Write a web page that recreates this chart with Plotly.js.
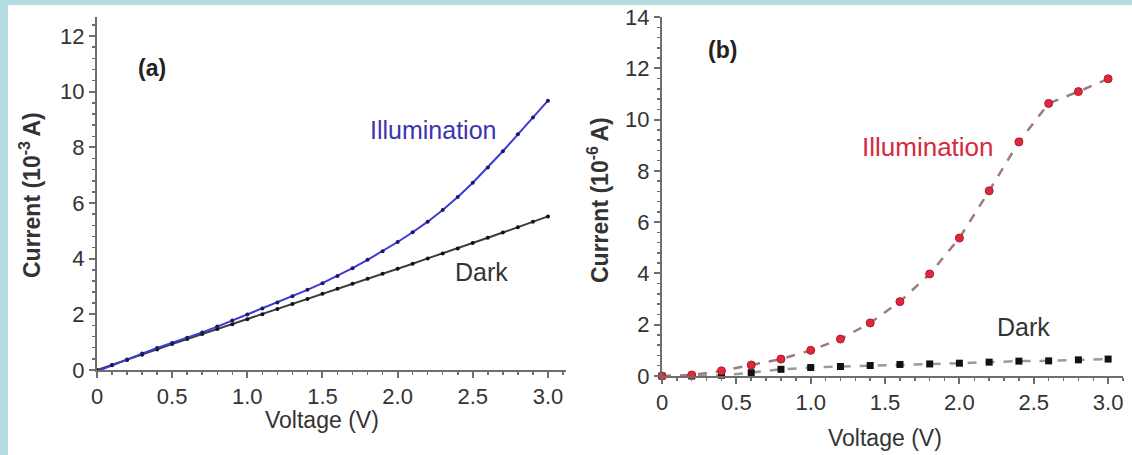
<!DOCTYPE html>
<html>
<head>
<meta charset="utf-8">
<script src="https://cdn.plot.ly/plotly-3.0.1.min.js"></script>
<style>
  html, body { margin: 0; padding: 0; background: #b5dde1; width: 1132px; height: 455px; overflow: hidden; }
  #chart { position: absolute; left: 8px; top: 5px; width: 1124px; height: 450px; background: #ffffff; }
</style>
</head>
<body>
<div id="chart"></div>
<script>
// ---- Data ----
const voltageA = [0,0.1,0.2,0.3,0.4,0.5,0.6,0.7,0.8,0.9,1.0,1.1,1.2,1.3,1.4,1.5,1.6,1.7,1.8,1.9,2.0,2.1,2.2,2.3,2.4,2.5,2.6,2.7,2.8,2.9,3.0];
const illumA = [-0.05,0.17,0.38,0.59,0.79,0.97,1.16,1.35,1.56,1.78,1.99,2.21,2.43,2.65,2.88,3.12,3.38,3.66,3.96,4.27,4.60,4.95,5.33,5.75,6.22,6.73,7.28,7.86,8.47,9.07,9.68];
const darkA = [0,0.18,0.36,0.55,0.74,0.93,1.11,1.29,1.47,1.64,1.82,2.0,2.19,2.37,2.55,2.74,2.92,3.10,3.28,3.46,3.64,3.82,4.01,4.19,4.37,4.56,4.75,4.94,5.13,5.33,5.52];

const voltageB = [0,0.2,0.4,0.6,0.8,1.0,1.2,1.4,1.6,1.8,2.0,2.2,2.4,2.6,2.8,3.0];
const illumB = [0,0.04,0.2,0.43,0.66,1.0,1.44,2.07,2.9,3.98,5.38,7.22,9.13,10.63,11.09,11.59];
const darkB = [0,0.0,0.03,0.13,0.26,0.33,0.37,0.41,0.45,0.47,0.5,0.54,0.58,0.59,0.63,0.66];

const xTickVals = [0,0.5,1.0,1.5,2.0,2.5,3.0];
const xTickText = ["0","0.5","1.0","1.5","2.0","2.5","3.0"];
const yTickValsA = [0,2,4,6,8,10,12];
const yTickValsB = [0,2,4,6,8,10,12,14];

const W = 1124, H = 450;
const FONT = '"Liberation Sans", Arial, sans-serif';
const AX = '#6e6e6e';

const traces = [
  { x: voltageA, y: darkA, xaxis: 'x', yaxis: 'y', mode: 'lines+markers', cliponaxis: false,
    line: { color: '#3c3c3c', width: 2 }, marker: { color: '#111', size: 4 } },
  { x: voltageA, y: illumA, xaxis: 'x', yaxis: 'y', mode: 'lines+markers', cliponaxis: false,
    line: { color: '#3a3ad8', width: 2 }, marker: { color: '#1a1a66', size: 4 } },
  { x: voltageB, y: darkB, xaxis: 'x2', yaxis: 'y2', mode: 'lines+markers', cliponaxis: false,
    line: { color: '#9a9a9a', width: 2.5, dash: 'dash' }, marker: { color: '#111', size: 7, symbol: 'square' } },
  { x: voltageB, y: illumB, xaxis: 'x2', yaxis: 'y2', mode: 'lines+markers', cliponaxis: false,
    line: { color: '#9c7a80', width: 2.5, dash: 'dash' }, marker: { color: '#e0283c', size: 8, symbol: 'circle', line: { color: '#b01828', width: 1 } } }
];

function xAxis(domain, range, anchor) {
  return { domain: domain, range: range, anchor: anchor, showgrid: false, zeroline: false,
    showline: true, linecolor: AX, linewidth: 2, ticks: 'outside', ticklen: 6, tickwidth: 2, tickcolor: AX,
    tickvals: xTickVals, ticktext: xTickText, ticklabeloverflow: 'allow',
    tickfont: { family: FONT, size: 22, color: '#333' },
    minor: { dtick: 0.1, ticks: 'outside', ticklen: 3, tickwidth: 1.5, tickcolor: AX } };
}
function yAxis(domain, range, anchor, vals) {
  return { domain: domain, range: range, anchor: anchor, showgrid: false, zeroline: false,
    showline: true, linecolor: AX, linewidth: 2, ticks: 'outside', ticklen: 6, tickwidth: 2, tickcolor: AX,
    tickvals: vals, ticktext: vals.map(String), ticklabeloverflow: 'allow',
    tickfont: { family: FONT, size: 22, color: '#333' },
    minor: { dtick: 0.4, ticks: 'outside', ticklen: 3, tickwidth: 1.5, tickcolor: AX } };
}

function ann(text, px, py, opts) {
  return Object.assign({ text: text, xref: 'paper', yref: 'paper', x: px / W, y: 1 - py / H,
    xanchor: 'center', yanchor: 'middle', showarrow: false,
    font: { family: FONT, size: 23, color: '#333' } }, opts || {});
}

const layout = {
  width: W, height: H, margin: { l: 0, r: 0, t: 0, b: 0 },
  paper_bgcolor: '#ffffff', plot_bgcolor: 'rgba(0,0,0,0)', showlegend: false,
  xaxis: xAxis([89 / W, 558 / W], [0, 3.12], 'y'),
  yaxis: yAxis([85 / H, 438.4 / H], [0, 12.7], 'x', yTickValsA),
  xaxis2: xAxis([654 / W, 1115 / W], [0, 3.1], 'y2'),
  yaxis2: yAxis([79 / H, 438 / H], [0, 14], 'x2', yTickValsB),
  annotations: [
    ann('<b>Current (10<sup>-3 </sup>A)</b>', 22, 190, { textangle: -90, font: { family: FONT, size: 23, color: '#333' } }),
    ann('Voltage (V)', 314, 415),
    ann('<b>(a)</b>', 144, 63, { font: { family: FONT, size: 23, color: '#222' } }),
    ann('Illumination', 425, 125, { font: { family: FONT, size: 25, color: '#3a34b0' } }),
    ann('Dark', 474, 267, { font: { family: FONT, size: 25, color: '#333' } }),
    ann('<b>Current (10<sup>-6 </sup>A)</b>', 590, 195, { textangle: -90, font: { family: FONT, size: 23, color: '#333' } }),
    ann('Voltage (V)', 877, 433),
    ann('<b>(b)</b>', 714, 45, { font: { family: FONT, size: 23, color: '#222' } }),
    ann('Illumination', 920, 142, { font: { family: FONT, size: 26, color: '#d42a3e' } }),
    ann('Dark', 1015, 322, { font: { family: FONT, size: 25, color: '#333' } })
  ]
};

Plotly.newPlot('chart', traces, layout, { staticPlot: true, displayModeBar: false });
</script>
</body>
</html>
